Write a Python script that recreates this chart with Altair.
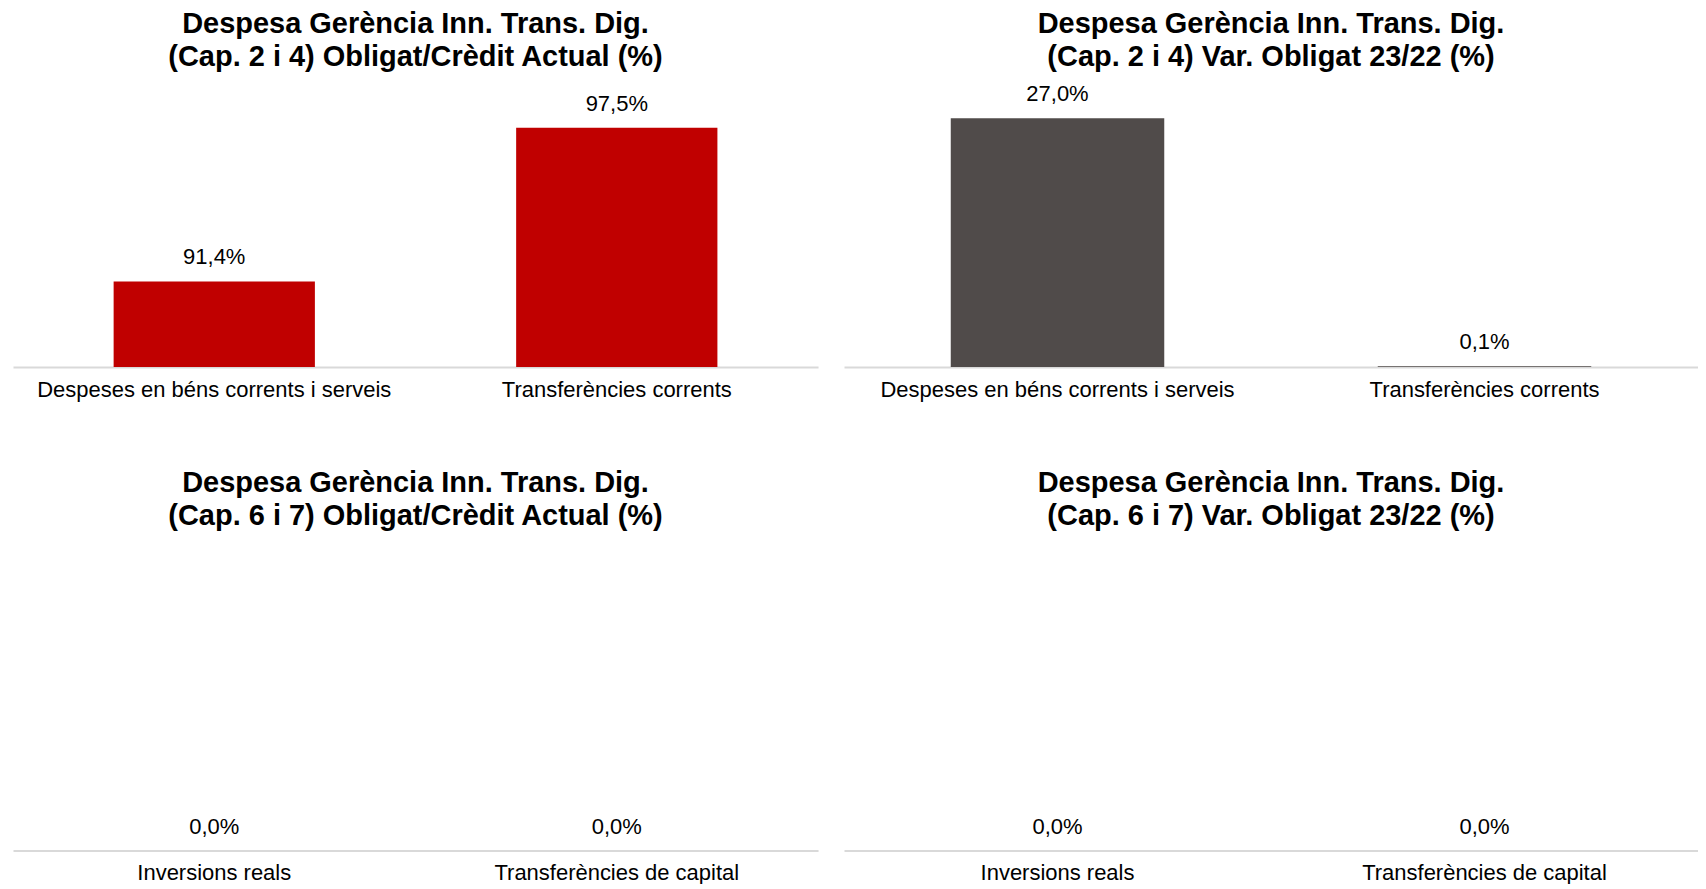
import altair as alt
import pandas as pd

cats_top = ["Despeses en béns corrents i serveis", "Transferències corrents"]
cats_bottom = ["Inversions reals", "Transferències de capital"]

vals_top_left = [91.4, 97.5]
vals_top_right = [27.0, 0.1]
vals_bottom_left = [0.0, 0.0]
vals_bottom_right = [0.0, 0.0]

title_top_left = ["Despesa Gerència Inn. Trans. Dig.", "(Cap. 2 i 4) Obligat/Crèdit Actual (%)"]
title_top_right = ["Despesa Gerència Inn. Trans. Dig.", "(Cap. 2 i 4) Var. Obligat 23/22 (%)"]
title_bottom_left = ["Despesa Gerència Inn. Trans. Dig.", "(Cap. 6 i 7) Obligat/Crèdit Actual (%)"]
title_bottom_right = ["Despesa Gerència Inn. Trans. Dig.", "(Cap. 6 i 7) Var. Obligat 23/22 (%)"]

RED = "#C00000"
GRAY = "#504B4A"
FONT = "Liberation Sans"


def panel(cats, vals, title, color, width, height, ydom):
    df = pd.DataFrame({"cat": cats, "val": vals})
    base = alt.Chart(df).transform_calculate(
        lbl="replace(format(datum.val, '.1f'), '.', ',') + '%'"
    )
    x = alt.X(
        "cat:N",
        sort=cats,
        title=None,
        scale=alt.Scale(paddingInner=0.5, paddingOuter=0.25),
        axis=alt.Axis(
            labelAngle=0,
            ticks=False,
            tickSize=0,
            labelPadding=12,
            labelFontSize=22,
            labelFont=FONT,
            labelColor="#000000",
            domainColor="#D9D9D9",
            domainWidth=2,
            labelLimit=800,
            grid=False,
        ),
    )
    y = alt.Y(
        "val:Q",
        scale=alt.Scale(domain=ydom, zero=False, nice=False),
        axis=None,
    )
    bars = base.mark_bar(color=color).encode(x=x, y=y, y2=alt.datum(ydom[0]))
    labels = base.mark_text(
        baseline="bottom", dy=-12, fontSize=22, font=FONT, color="#000000"
    ).encode(x=alt.X("cat:N", sort=cats), y=y, text="lbl:N")
    return alt.layer(bars, labels).properties(
        width=width,
        height=height,
        title=alt.TitleParams(
            text=title,
            fontSize=29,
            fontWeight="bold",
            font=FONT,
            lineHeight=33,
            offset=10,
            anchor="middle",
            color="#000000",
        ),
    )


tl = panel(cats_top, vals_top_left, title_top_left, RED, 806, 285, [88, 99.3])
tr = panel(cats_top, vals_top_right, title_top_right, GRAY, 855, 285, [0, 30.9])
bl = panel(cats_bottom, vals_bottom_left, title_bottom_left, RED, 806, 310, [0, 1])
br = panel(cats_bottom, vals_bottom_right, title_bottom_right, GRAY, 855, 310, [0, 1])

chart = alt.vconcat(
    alt.hconcat(tl, tr, spacing=26),
    alt.hconcat(bl, br, spacing=26),
    spacing=69,
).properties(
    padding={"left": 5, "top": 2, "right": 0, "bottom": 0},
    background="#FFFFFF",
).configure_view(stroke=None)

chart.save("out.html", embed_options={"renderer": "svg", "actions": False})
